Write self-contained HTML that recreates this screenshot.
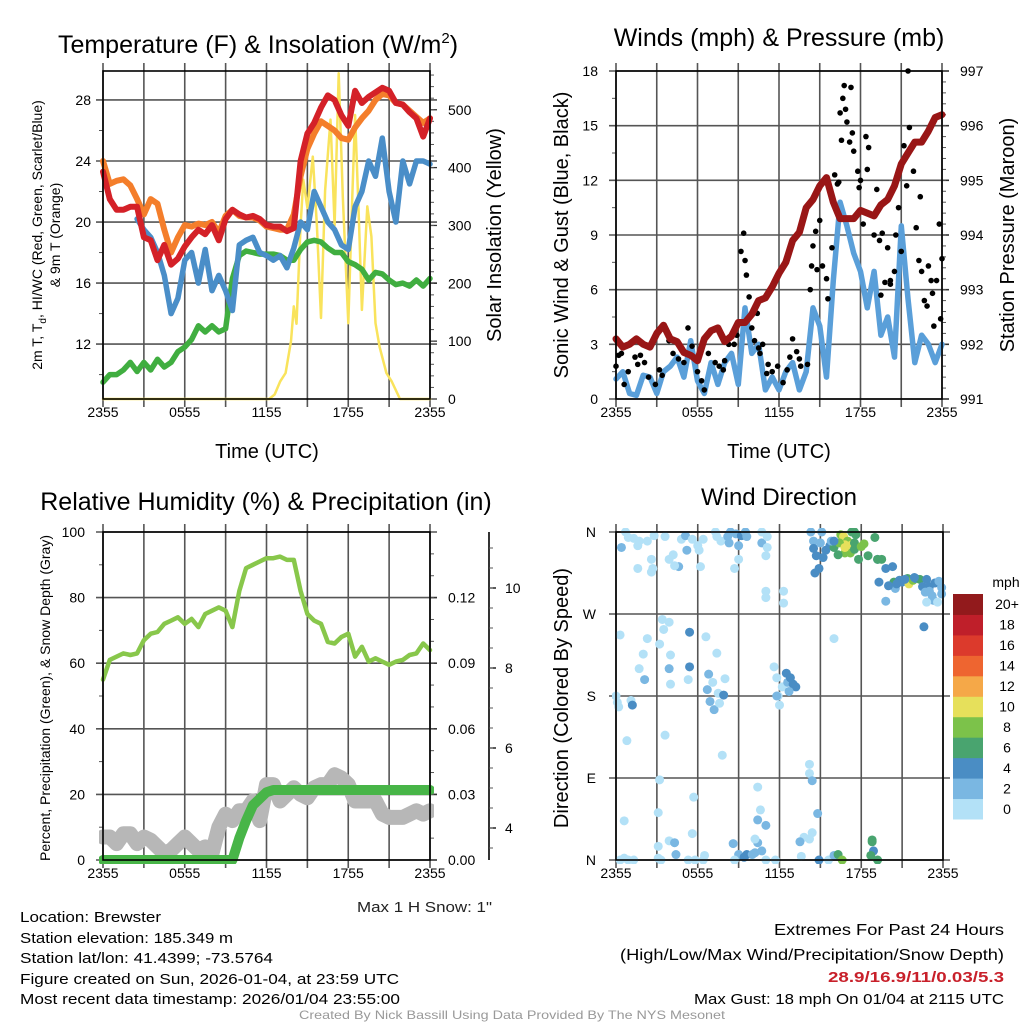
<!DOCTYPE html>
<html><head><meta charset="utf-8"><style>
body{margin:0;background:#fff}
svg{display:block;font-family:"Liberation Sans",sans-serif}
</style></head><body>
<svg id="s" width="1024" height="1024" viewBox="0 0 1024 1024" xmlns="http://www.w3.org/2000/svg">
<rect width="1024" height="1024" fill="#fff"/>
<g id="g"></g>
<text x="20" y="922" font-size="15" textLength="141" lengthAdjust="spacingAndGlyphs">Location: Brewster</text>
<text x="20" y="943" font-size="15" textLength="213" lengthAdjust="spacingAndGlyphs">Station elevation: 185.349 m</text>
<text x="20" y="963" font-size="15" textLength="253" lengthAdjust="spacingAndGlyphs">Station lat/lon: 41.4399; -73.5764</text>
<text x="20" y="984" font-size="15" textLength="379" lengthAdjust="spacingAndGlyphs">Figure created on Sun, 2026-01-04, at 23:59 UTC</text>
<text x="20" y="1004" font-size="15" textLength="380" lengthAdjust="spacingAndGlyphs">Most recent data timestamp: 2026/01/04 23:55:00</text>
<text x="492" y="912" font-size="15" text-anchor="end" textLength="135" lengthAdjust="spacingAndGlyphs" fill="#222">Max 1 H Snow: 1"</text>
<text x="1004" y="935" font-size="16" text-anchor="end" textLength="230" lengthAdjust="spacingAndGlyphs">Extremes For Past 24 Hours</text>
<text x="1004" y="960" font-size="16" text-anchor="end" textLength="384" lengthAdjust="spacingAndGlyphs">(High/Low/Max Wind/Precipitation/Snow Depth)</text>
<text x="1004" y="982" font-size="15" font-weight="bold" fill="#c8202a" text-anchor="end" textLength="176" lengthAdjust="spacingAndGlyphs">28.9/16.9/11/0.03/5.3</text>
<text x="1004" y="1004" font-size="15" text-anchor="end" textLength="310" lengthAdjust="spacingAndGlyphs">Max Gust: 18 mph On 01/04 at 2115 UTC</text>
<text x="512" y="1019" font-size="12" fill="#999" text-anchor="middle" textLength="426" lengthAdjust="spacingAndGlyphs">Created By Nick Bassill Using Data Provided By The NYS Mesonet</text>
</svg>
<script>
// ---- data ----
const hours = [];
for (let i = 0; i <= 48; i++) hours.push(i * 0.5);
const tempRed = [23.3,21.5,20.8,20.8,21,21,19,18.8,17.5,18.5,17.2,17.6,18.4,19.0,19.5,19.2,19.8,18.8,20.2,20.8,20.5,20.3,20.4,20.2,19.8,19.7,19.7,19.4,19.6,24,25.8,26.5,27.5,28.3,28,27,26.3,28.6,27.8,28.2,28.5,28.8,28.6,27.8,27.7,27.2,26.8,25.6,26.8];
const temp9mOrange = [24,22.5,22.7,22.8,22.4,21.5,20.5,21.5,21.2,19.5,18,19,19.8,19.7,19.9,19.8,20,19.3,20.4,20.8,20.4,20.3,20.3,20.1,19.7,19.6,19.5,19.5,20.5,23,24.8,25.8,26.6,26.3,26,25.5,25.4,26.2,26.8,27.3,28,28.4,28.3,27.8,27.7,27.3,26.9,26.5,26.8];
const dewGreen = [9.5,10,10,10.3,10.8,10.2,10.8,10.3,11,10.5,10.8,11.5,11.8,12.3,13.2,12.8,13.2,12.8,13,16.3,17.8,18.1,18,17.9,17.9,17.9,17.8,17.5,17.5,18.2,18.7,18.8,18.7,18.3,18,18,17.4,17.2,16.9,16.2,16.7,16.6,16.2,15.9,16,15.8,16.2,15.8,16.3];
const hiwcBlue = [null,null,null,null,null,20.2,19.5,19,18,16.5,14,15,17.5,18,16,18.2,15.5,16.5,15.5,14.2,18.5,18.8,19,18,17.8,17.5,17.8,17,18.3,20,19.5,22,21,20,19.5,18.5,18.2,21,22,24,23,25.5,22,20,24,22.5,24,24,23.8];
const solarTimes = [0,12.2,12.6,13,13.4,13.8,14,14.2,14.5,14.7,15,15.4,15.7,16,16.3,16.7,17,17.3,17.6,18,18.3,18.5,18.8,19,19.4,19.7,20,20.3,20.8,21.2,21.8,24];
const solarYellow = [0,0,8,30,45,100,160,130,300,379,330,419,300,140,360,483,300,563,350,131,350,491,300,154,333,281,131,90,45,30,0,0];
const windBlue = [1.1,1.5,0.3,0.2,1.3,1.2,0.3,1.5,1.8,2.3,1.2,3.2,1,0.3,2,0.8,2,2.5,0.8,5,2.5,3,0.5,1.2,0.5,1.5,2,0.5,1.5,5,4,1.2,6.5,10.8,9.5,8,7,5,7,3.5,4.5,2.3,9.5,5.5,2,3.5,3,2,3];
const pressureMaroon = [992.1,991.95,992,992.1,992.0,991.95,992.2,992.35,992.1,992.05,991.85,991.8,991.7,992.1,992.25,992.3,992.05,992.15,992.4,992.4,992.55,992.8,992.85,993.05,993.3,993.5,993.9,994.05,994.5,994.65,994.9,995.05,994.6,994.3,994.3,994.3,994.45,994.4,994.35,994.55,994.65,994.9,995.3,995.5,995.7,995.7,995.9,996.15,996.2];
const gustTimes = [0,0.2,0.4,0.6,0.9,1.4,1.6,1.8,2.1,2.4,2.9,3.2,3.4,3.9,4.2,4.6,5.3,5.6,6.3,6.5,6.8,7,7.3,7.6,8,8.3,8.7,8.9,9.2,9.4,9.5,9.6,9.8,10,10.2,10.4,10.6,10.8,11.2,11.5,11.9,12.3,12.6,13,13.3,13.6,14.1,14.3,14.5,14.7,14.8,15,15.2,15.5,15.9,16.1,16.3,16.5,16.6,16.7,16.8,16.9,17,17.2,17.3,17.4,17.5,17.8,17.9,18,18.2,18.4,18.5,18.6,19,19.2,19.4,19.6,20,20.2,20.5,20.6,20.8,21,21.2,21.4,21.5,21.6,21.8,21.9,22.1,22.3,22.5,22.7,22.9,23,23.2,23.4,23.6,23.8,24,23.9,23.3,22.4,20.2,19.8,19.5,15.6,16.4,14.4,10.5,5,6,7.9,13.5,12.8,11.1];
const gustBlack = [1.8,2.4,2.5,0.8,1.5,2.3,1.9,2.4,2,1.2,0.8,1.6,1.3,3.2,2.5,2.2,3.9,2.9,1,0.5,2.5,3.7,2,1.8,2.1,3,3,3.5,8.1,9.1,7.6,6.8,5.6,3.9,3.2,4.7,2.5,3,1.9,1.5,1.8,0.9,1.6,3.3,2.6,1.8,1.9,6,8.4,9.2,7.1,9.8,7.3,6.6,8.3,12.3,11.8,15.7,14.2,16.5,17.2,15.9,15.2,14.1,17.1,14.6,13.6,12.5,11.6,12,9.6,14.4,12.6,13.8,9,11.5,8.7,9.1,8.3,6.3,7,9,10.5,8.1,13.9,11.7,18,14.9,13.8,12.5,9.4,7.6,7,5.4,5.1,7.3,6.5,4,6.5,9.6,7.7,4.4,5.8,11.1,6.5,6.4,5.7,5.5,11.9,7.3,2.8,2,1.5,1.6,2.2,2.3,1.4];
const rhGreen = [55,61,62,63,62.5,63,67,69,69.5,72,73,74,72,73.5,71,75,76,77,76,71,82,89,90,91,92,92,92.5,91.5,91.5,82,75,73,72,66.5,66,68,69,62,65,60.5,61.5,60.5,59.5,60.5,61,62.5,63,66,64];
const precipIn = [0,0,0,0,0,0,0,0,0,0,0,0,0,0,0,0,0,0,0,0,0.01,0.018,0.025,0.028,0.031,0.032,0.032,0.032,0.032,0.032,0.032,0.032,0.032,0.032,0.032,0.032,0.032,0.032,0.032,0.032,0.032,0.032,0.032,0.032,0.032,0.032,0.032,0.032,0.032];
const snowGray = [7,7,5,8,8,5,7,6,4,2,3,5,7,5,3,4,2,10,14,12,15,15,18,12,23,23,18,20,22,20,19,22,23,23,26,25,23,18,18,18,18,14,13,13,13,14,15,14,15];
const dirTimes = [0.7,0.4,0.9,1.3,1.7,1.6,2.3,2.8,2.6,2.7,3.6,3.9,4.2,4.8,5.1,5.2,5.6,6.0,6.1,7.3,7.4,6.4,7.7,8.2,8.3,8.4,8.8,9.2,9.0,9.5,9.6,9.0,8.7,10.7,10.7,11.1,11.1,11.0,11.0,11.0,4.6,4.3,1.6,2.6,6.2,
14.3,14.5,14.5,15.1,15.0,15.4,15.2,14.7,14.9,14.6,15.7,16.0,15.8,16.5,16.7,17.0,16.8,17.3,16.8,17.2,17.5,17.6,17.5,18.0,18.2,17.5,16.4,16.3,17.8,18.5,19.0,19.2,19.5,19.2,19.8,20.3,20.5,20.4,20.0,20.8,21.0,21.4,21.5,21.8,22.0,22.3,22.5,22.8,23.0,23.4,23.7,23.9,23.9,23.2,23.3,22.8,23.6,19.8,21.2,20.6,23.0,21.9,22.7,17.3,19.3,16.0,16.8,
16.0,22.6,12.3,12.3,3.4,3.9,3.5,5.4,6.6,7.4,2.3,0.3,3.2,2.0,4.0,1.7,2.1,3.9,5.4,5.3,4.0,1.1,1.2,0,0.2,0.1,6.8,7.1,6.7,6.9,7.2,7.6,7.5,7.9,8,11.6,11.8,12.2,11.9,12.5,12.6,13.0,13.2,12.0,11.8,12.8,12.7,0.8,3.6,7.8,
14.2,14.2,14.4,3.2,5.7,10.4,0.6,3.1,10.6,10.4,11.0,14.8,14.4,14.2,5.6,3.1,3.9,4.3,4.4,8.6,9.0,9.6,9.4,10.0,10.2,10.4,10.7,10.2,14.9,15.6,16.0,16.3,16.6,18.8,18.8,18.9,18.7,19.2,0.3,0.6,0.9,1.3,3.1,3.3,5.3,5.8,6.4,6.5,8.7,11.7,11.0,13.6,13.8,13.5];
const dirDegrees = [360,343,354,353,350,345,350,356,330,320,355,330,335,352,356,340,352,345,340,360,355,352,350,355,348,360,358,356,345,360,355,330,320,360,348,355,343,334,295,288,322,323,320,316,322,
360,350,342,360,348,340,332,334,320,315,345,343,350,357,355,350,346,346,337,337,341,357,348,344,347,360,348,335,330,334,354,330,330,330,320,322,298,305,301,307,305,309,303,307,309,308,300,308,300,304,306,299,292,290,285,283,283,284,308,303,295,310,294,360,305,350,343,
243,256,295,282,264,261,253,250,245,227,243,247,237,226,225,210,198,210,212,198,193,175,170,180,168,173,204,195,187,174,165,172,183,181,199,212,200,190,180,205,195,193,190,170,180,200,185,131,137,115,
105,95,87,88,69,80,43,52,55,44,38,51,30,23,29,15,21,19,6,18,6,6,3,6,8,19,10,23,0,0,5,6,0,22,20,10,5,0,0,2,0,0,2,0,0,0,0,5,0,0,0,4,25,20];
const dirSpeed = [0,2,0,0,0,0,0,0,0,0,0,0,0,0,2,2,0,0,0,0,0,0,0,2,2,2,2,4,2,2,2,0,0,0,2,0,0,0,0,0,2,0,0,0,0,
2,2,4,2,2,4,4,4,4,4,4,6,2,8,10,8,10,10,8,8,6,6,6,8,8,6,8,6,6,6,6,4,6,6,4,4,2,6,4,4,4,6,10,8,4,6,4,4,4,4,2,2,2,2,2,0,0,2,4,4,2,4,2,6,4,4,10,
0,4,0,0,0,0,0,4,0,0,0,0,0,0,0,0,2,2,4,0,0,0,4,0,0,0,2,0,2,2,2,0,0,4,0,0,0,0,0,4,2,4,4,0,2,4,2,0,0,0,
0,0,2,0,0,0,0,0,0,2,2,2,0,0,0,0,0,2,2,2,2,4,4,2,2,2,2,0,4,0,2,6,8,6,6,4,6,6,0,0,0,0,0,0,0,0,0,0,0,0,0,0,0,2];
const speedBins = ["0","2","4","6","8","10","12","14","16","18","20+"];
const speedColors = ["#b3e1f7","#7ab7e2","#4a8dc4","#49a46f","#7cc24a","#e6e05b","#f5a848","#ee6530","#dc3a2c","#bf1f2a","#921a1c"];
const xTickLabels = ["2355","0555","1155","1755","2355"];

// ---- helpers ----
const NS = "http://www.w3.org/2000/svg";
const G = document.getElementById("g");
function mk(tag, attrs, parent) {
  const e = document.createElementNS(NS, tag);
  for (const k in attrs) e.setAttribute(k, attrs[k]);
  (parent || G).appendChild(e);
  return e;
}
function lin(d0, d1, r0, r1) { return v => r0 + (v - d0) / (d1 - d0) * (r1 - r0); }
function txt(x, y, s, size, anchor, parent, rot) {
  const t = mk("text", {x: x, y: y, "font-size": size, "text-anchor": anchor || "middle", fill: "#000"}, parent);
  if (rot) t.setAttribute("transform", "rotate(" + rot + " " + x + " " + y + ")");
  t.textContent = s;
  return t;
}
function panel(name, x0, x1, y0, y1) {
  const g = mk("g", {});
  
  
  const xs = lin(0, 24, x0, x1);
  for (let h = 0; h <= 24; h += 3) {
    const x = xs(h);
    const l = mk("line", {x1: x, x2: x, y1: y0 - 8, y2: y1 + 8, stroke: "#555", "stroke-width": 1.6}, g);
    
    
  }
  xTickLabels.forEach((s, i) => {
    const t = txt(xs(i * 6), y1 + 18, s, 14, "middle", g);
    
    
  });
  return {g, xs};
}
function hgrid(p, x0, x1, ys, vals, minors, labels, side, lx) {
  vals.forEach((v, i) => {
    const y = ys(v);
    const l = mk("line", {x1: x0 - 7, x2: x1 + 7, y1: y, y2: y, stroke: "#555", "stroke-width": 1.6}, p.g);
    
    
    if (labels) {
      const t = txt(lx, y + 5, labels[i], 14, "end", p.g);
      
      
    }
  });
  minors.forEach(v => {
    const y = ys(v);
    mk("line", {x1: x0 - 4, x2: x0, y1: y, y2: y, stroke: "#555", "stroke-width": 1}, p.g);
  });
}
function rightAxis(p, x, ys, vals, labels, minors, lx) {
  vals.forEach((v, i) => {
    const y = ys(v);
    mk("line", {x1: x, x2: x + 7, y1: y, y2: y, stroke: "#333", "stroke-width": 1.3}, p.g);
    const t = txt(lx, y + 5, labels[i], 14, "start", p.g);
    
    
  });
  minors.forEach(v => {
    const y = ys(v);
    mk("line", {x1: x, x2: x + 4, y1: y, y2: y, stroke: "#555", "stroke-width": 1}, p.g);
  });
}
function border(p, x0, x1, y0, y1) {
  const r = mk("rect", {x: x0, y: y0, width: x1 - x0, height: y1 - y0, fill: "none", stroke: "#000", "stroke-width": 1.6}, p.g);
  
  
}
function line(p, ts, vs, xs, ys, color, w, name, clip) {
  let d = "", pen = false;
  ts.forEach((t, i) => {
    const v = vs[i];
    if (v === null || v === undefined) { pen = false; return; }
    d += (pen ? "L" : "M") + xs(t).toFixed(1) + "," + ys(v).toFixed(1);
    pen = true;
  });
  const path = mk("path", {d: d, fill: "none", stroke: color, "stroke-width": w, "stroke-linejoin": "round", "stroke-linecap": "round"}, p.g);
  if (clip) path.setAttribute("clip-path", "url(#" + clip + ")");
  
  
  return path;
}
function range(a, b, s) { const r = []; for (let v = a; v <= b + 1e-9; v += s) r.push(+v.toFixed(4)); return r; }
const defs = mk("defs", {});
function clipRect(id, x0, x1, y0, y1) {
  const c = mk("clipPath", {id: id}, defs);
  mk("rect", {x: x0 - 4, y: y0 - 4, width: x1 - x0 + 8, height: y1 - y0 + 8}, c);
}

// ---- Panel 1: Temperature ----
(function () {
  const x0 = 103, x1 = 430, y0 = 71, y1 = 399;
  clipRect("c1", x0, x1, y0, y1);
  const p = panel("temperature-panel", x0, x1, y0, y1);
  const ys = lin(8.4, 29.9, y1, y0);
  const ysR = lin(0, 567, y1, y0);
  hgrid(p, x0, x1, ys, [12, 16, 20, 24, 28], [10, 14, 18, 22, 26], ["12", "16", "20", "24", "28"], "l", x0 - 12);
  rightAxis(p, x1, ysR, [0, 100, 200, 300, 400, 500], ["0", "100", "200", "300", "400", "500"], range(20, 560, 20), x1 + 18);
  line(p, solarTimes, solarYellow, p.xs, ysR, "#f9e35c", 2.5, "solar-insolation-line", "c1");
  line(p, hours, dewGreen, p.xs, ys, "#40ae40", 5.5, "dewpoint-line", "c1");
  line(p, hours, hiwcBlue, p.xs, ys, "#4a8ec8", 5.5, "heat-index-windchill-line", "c1");
  line(p, hours, temp9mOrange, p.xs, ys, "#f47e2b", 6, "temp-9m-line", "c1");
  line(p, hours, tempRed, p.xs, ys, "#d42128", 6, "temp-2m-line", "c1");
  border(p, x0, x1, y0, y1);
  let t = txt(258, 53, "Temperature (F) & Insolation (W/m", 25, "middle", p.g);
  
  
  const sup = mk("tspan", {dy: -10, "font-size": 15}, t); sup.textContent = "2";
  const cl = mk("tspan", {dy: 10, "font-size": 25}, t); cl.textContent = ")";
  t = txt(42, 235, "", 14, "middle", p.g, -90);
  const a = mk("tspan", {}, t); a.textContent = "2m T, T";
  const b = mk("tspan", {dy: 4, "font-size": 10}, t); b.textContent = "d";
  const c = mk("tspan", {dy: -4}, t); c.textContent = ", HI/WC (Red, Green, Scarlet/Blue)";
  
  
  t = txt(60, 235, "& 9m T (Orange)", 14, "middle", p.g, -90);
  
  
  t = txt(501, 235, "Solar Insolation (Yellow)", 20, "middle", p.g, -90);
  
  
  t = txt(267, 458, "Time (UTC)", 20, "middle", p.g);
  
  
})();

// ---- Panel 2: Winds ----
(function () {
  const x0 = 616, x1 = 942, y0 = 71, y1 = 399;
  clipRect("c2", x0, x1, y0, y1);
  const p = panel("winds-panel", x0, x1, y0, y1);
  const ys = lin(0, 18, y1, y0);
  const ysR = lin(991, 997, y1, y0);
  hgrid(p, x0, x1, ys, [0, 3, 6, 9, 12, 15, 18], range(1.5, 16.5, 3), ["0", "3", "6", "9", "12", "15", "18"], "l", x0 - 18);
  rightAxis(p, x1, ysR, [991, 992, 993, 994, 995, 996, 997], ["991", "992", "993", "994", "995", "996", "997"], range(991.2, 996.8, 0.2), x1 + 18);
  line(p, hours, windBlue, p.xs, ys, "#5a9fd9", 5.5, "sonic-wind-line", "c2");
  gustTimes.forEach((t, i) => {
    const c = mk("circle", {cx: p.xs(t), cy: ys(gustBlack[i]), r: 2.8, fill: "#000"}, p.g);
    
    
  });
  line(p, hours, pressureMaroon, p.xs, ysR, "#991616", 7, "station-pressure-line", "c2");
  border(p, x0, x1, y0, y1);
  let t = txt(779, 46, "Winds (mph) & Pressure (mb)", 25, "middle", p.g);
  
  
  t = txt(568, 235, "Sonic Wind & Gust (Blue, Black)", 20, "middle", p.g, -90);
  
  
  t = txt(1014, 235, "Station Pressure (Maroon)", 20, "middle", p.g, -90);
  
  
  t = txt(779, 458, "Time (UTC)", 20, "middle", p.g);
  
  
})();

// ---- Panel 3: RH & Precip ----
(function () {
  const x0 = 103, x1 = 430, y0 = 532, y1 = 860;
  clipRect("c3", x0, x1, y0, y1);
  const p = panel("humidity-precip-panel", x0, x1, y0, y1);
  const ys = lin(0, 100, y1, y0);
  const ysP = lin(0, 0.15, y1, y0);
  const ysS = lin(3.2, 11.4, y1, y0);
  hgrid(p, x0, x1, ys, [0, 20, 40, 60, 80, 100], [10, 30, 50, 70, 90], ["0", "20", "40", "60", "80", "100"], "l", x0 - 18);
  rightAxis(p, x1, ysP, [0, 0.03, 0.06, 0.09, 0.12], ["0.00", "0.03", "0.06", "0.09", "0.12"], range(0.01, 0.14, 0.01), x1 + 18);
  const ax = mk("line", {x1: 489, x2: 489, y1: y0, y2: y1, stroke: "#000", "stroke-width": 1.6}, p.g);
  
  
  [4, 6, 8, 10].forEach(v => {
    mk("line", {x1: 489, x2: 496, y1: ysS(v), y2: ysS(v), stroke: "#000", "stroke-width": 1.3}, p.g);
    const t = txt(505, ysS(v) + 5, String(v), 14, "start", p.g);
    
    
  });
  range(3.5, 11, 0.5).forEach(v => mk("line", {x1: 489, x2: 493, y1: ysS(v), y2: ysS(v), stroke: "#555", "stroke-width": 1}, p.g));
  line(p, hours, snowGray, p.xs, ys, "#b7b7b7", 15, "snow-depth-line", "c3");
  line(p, hours, precipIn, p.xs, ysP, "#48b548", 10, "precipitation-line", "c3");
  line(p, hours, rhGreen, p.xs, ys, "#88c74b", 4.5, "relative-humidity-line", "c3");
  border(p, x0, x1, y0, y1);
  let t = txt(266, 510, "Relative Humidity (%) & Precipitation (in)", 25, "middle", p.g);
  
  
  t = txt(50, 698, "Percent, Precipitation (Green), & Snow Depth (Gray)", 14, "middle", p.g, -90);
  
  
})();

// ---- Panel 4: Wind Direction ----
(function () {
  const x0 = 616, x1 = 943, y0 = 532, y1 = 860;
  clipRect("c4", x0, x1, y0, y1);
  const p = panel("wind-direction-panel", x0, x1, y0, y1);
  const ys = lin(0, 360, y1, y0);
  hgrid(p, x0, x1, ys, [0, 90, 180, 270, 360], [], ["N", "E", "S", "W", "N"], "l", x0 - 20);
  dirTimes.forEach((t, i) => {
    const bin = Math.min(10, Math.floor(dirSpeed[i] / 2));
    const c = mk("circle", {cx: p.xs(t), cy: ys(dirDegrees[i]), r: 4.5, fill: speedColors[bin], "clip-path": "url(#c4)"}, p.g);
    
    
  });
  border(p, x0, x1, y0, y1);
  let t = txt(779, 505, "Wind Direction", 24, "middle", p.g);
  
  
  t = txt(568, 698, "Direction (Colored By Speed)", 20, "middle", p.g, -90);
  
  
  const lg = mk("g", {}, p.g);
  
  
  const cb0 = 594, cbH = 225 / 11;
  speedBins.forEach((s, i) => {
    const y = cb0 + (10 - i) * cbH;
    const r = mk("rect", {x: 953, y: y, width: 30, height: cbH + 0.5, fill: speedColors[i]}, lg);
    
    
    const tt = txt(1007, y + cbH / 2 + 5, s, 14, "middle", lg);
    
    
  });
  t = txt(1006, 587, "mph", 14, "middle", lg);
  
  
})();
</script>
</body></html>
